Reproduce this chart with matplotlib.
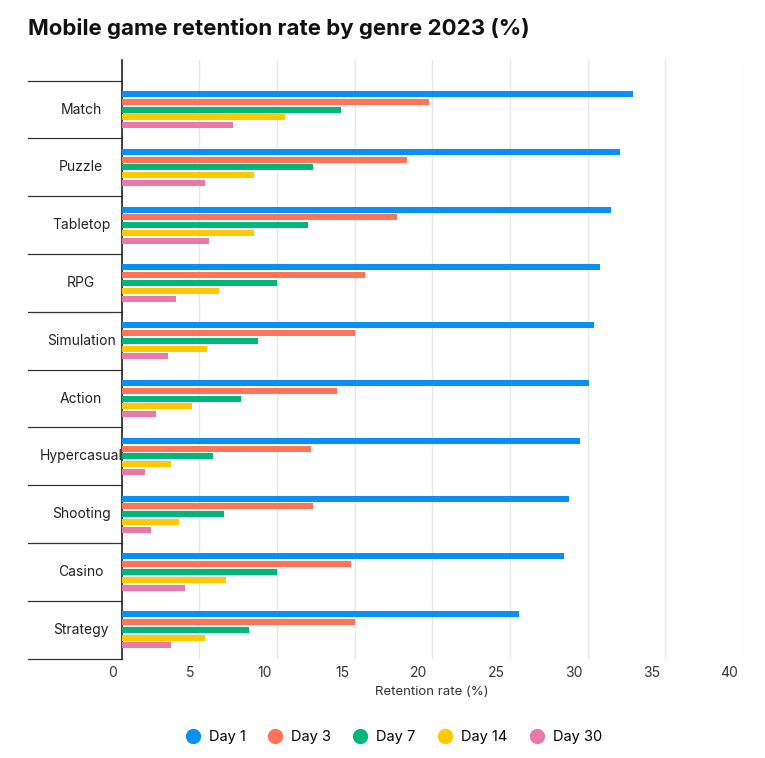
import matplotlib
matplotlib.use("Agg")
import matplotlib.pyplot as plt
import numpy as np

plt.rcParams['font.family'] = ['Inter', 'DejaVu Sans']

genres = ["Match", "Puzzle", "Tabletop", "RPG", "Simulation", "Action",
          "Hypercasual", "Shooting", "Casino", "Strategy"]
series_names = ["Day 1", "Day 3", "Day 7", "Day 14", "Day 30"]
day1 = [32.9, 32.1, 31.5, 30.8, 30.4, 30.1, 29.5, 28.8, 28.5, 25.6]
day3 = [19.8, 18.4, 17.7, 15.7, 15.0, 13.9, 12.2, 12.3, 14.8, 15.0]
day7 = [14.1, 12.3, 12.0, 10.0, 8.8, 7.7, 5.9, 6.6, 10.0, 8.2]
day14 = [10.5, 8.5, 8.5, 6.3, 5.5, 4.5, 3.2, 3.7, 6.7, 5.4]
day30 = [7.2, 5.4, 5.6, 3.5, 3.0, 2.2, 1.5, 1.9, 4.1, 3.2]
colors = ["#0a8ff5", "#ff7458", "#00b67a", "#ffc800", "#e879a8"]
xticks = [0, 5, 10, 15, 20, 25, 30, 35, 40]

fig = plt.figure(figsize=(7.65, 7.58), dpi=100)
ax = fig.add_axes([0.159, 0.131, 0.812, 0.79])
n = len(genres)
ypos = np.arange(n)[::-1]
step, h = 0.135, 0.105
for i, (vals, c, name) in enumerate(zip([day1, day3, day7, day14, day30], colors, series_names)):
    ax.barh(ypos + (2 - i) * step, vals, height=h, color=c, label=name, zorder=3)

ax.set_xlim(0, 40)
ax.set_ylim(-0.5, n - 0.5 + 0.36)
for s in ["top", "right", "bottom"]:
    ax.spines[s].set_visible(False)
ax.spines["left"].set_color("#222222")
ax.spines["left"].set_linewidth(1.2)
ax.set_xticks(xticks)
ax.set_xticklabels([])
ax.tick_params(axis="x", length=0)
ax.grid(axis="x", color="#e6e6e6", lw=1, zorder=0)
for t in xticks:
    ax.text(t - 0.3, -0.62, str(t), ha="right", va="top", fontsize=10, color="#333333")
ax.set_yticks([])
for y, g in zip(ypos, genres):
    ax.text(-0.065, y, g, transform=ax.get_yaxis_transform(), ha="center", va="center",
            fontsize=10, color="#222222")
for b in np.arange(n + 1) - 0.5:
    ax.plot([-0.151, 0], [b, b], transform=ax.get_yaxis_transform(), color="#333333",
            lw=0.9, clip_on=False)
ax.text(20, -0.98, "Retention rate (%)", ha="center", va="top", fontsize=9.5, color="#333333")

fig.text(0.037, 0.962, "Mobile game retention rate by genre 2023 (%)", fontsize=16,
         fontweight="bold", va="center", ha="left", color="#111111")
handles = [plt.Line2D([], [], marker="o", ls="", markersize=10, color=c) for c in colors]
fig.legend(handles, series_names, loc="center", bbox_to_anchor=(0.51, 0.028),
           ncol=5, frameon=False, fontsize=10.5, handletextpad=0.1, columnspacing=1.0)
fig.savefig("out.png", dpi=100, facecolor="white")
